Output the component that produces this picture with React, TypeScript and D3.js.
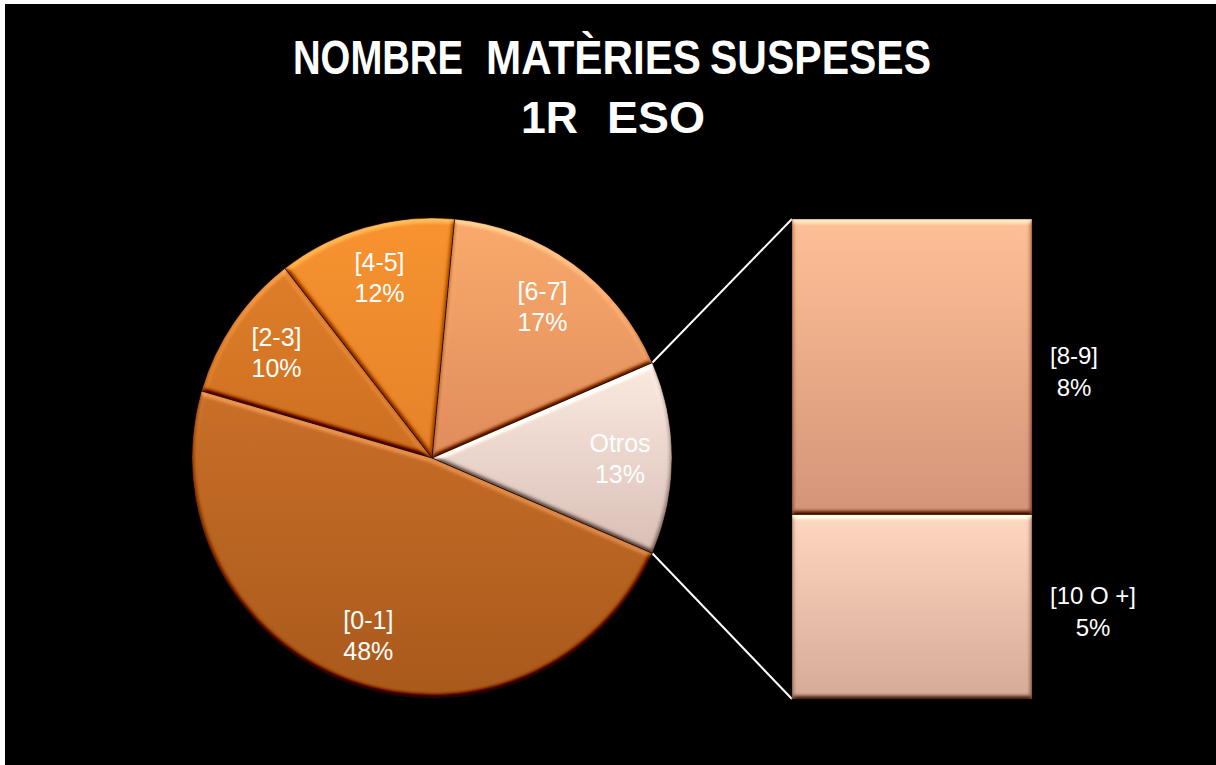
import React from "react";
import * as d3 from "d3";

// ---- Data ----
const categories = ["[0-1]", "[2-3]", "[4-5]", "[6-7]", "Otros"];
const values = [48, 10, 12, 17, 13];
const percentLabels = ["48%", "10%", "12%", "17%", "13%"];
const barCategories = ["[10 O +]", "[8-9]"]; // bottom to top
const barValues = [5, 8];
const barPercentLabels = ["5%", "8%"];
const titleLine1 = ["NOMBRE", "MATÈRIES", "SUSPESES"];
const titleLine2 = ["1R", "ESO"];

// ---- Styles ----
const pieTop = ["#C96F28", "#DE7E29", "#F7932F", "#F9AA6B", "#FBEAE1"];
const pieBottom = ["#A9591C", "#CD6F21", "#E5822A", "#E08C5C", "#D9BFB6"];
const barTop = ["#FFD6C0", "#FFC097"];
const barBottom = ["#D6AB98", "#D39479"];

const W = 1216;
const H = 765;
const cx = 432;
const cy = 458;
const R = 240;
const labelR = 188;
const barX0 = 792;
const barX1 = 1032;
const barTopY = 219;
const barBottomY = 699;
const font = '"Liberation Sans", Arial, sans-serif';

function measure(text: string, size: number): number {
  if (typeof document === "undefined") return text.length * size * 0.55;
  const c = document.createElement("canvas").getContext("2d");
  if (!c) return text.length * size * 0.55;
  c.font = `${size}px "Liberation Sans", Arial, sans-serif`;
  return c.measureText(text).width;
}

export default function App() {
  const total = d3.sum(values);
  const otros = values[values.length - 1];
  const start = Math.PI / 2 + Math.PI * (otros / total);
  const pie = d3
    .pie<number>()
    .sort(null)
    .value((d) => d)
    .startAngle(start)
    .endAngle(start + 2 * Math.PI);
  const arcs = pie(values);
  const arc = d3.arc<d3.PieArcDatum<number>>().innerRadius(0).outerRadius(R);
  const labelArc = d3
    .arc<d3.PieArcDatum<number>>()
    .innerRadius(labelR)
    .outerRadius(labelR);

  const otrosArc = arcs[arcs.length - 1];
  const pt = (a: number) => [cx + R * Math.sin(a), cy - R * Math.cos(a)];
  const [tx, ty] = pt(otrosArc.startAngle);
  const [bx, by] = pt(otrosArc.endAngle);

  const barTotal = d3.sum(barValues);
  const y = d3.scaleLinear().domain([0, barTotal]).range([barBottomY, barTopY]);
  const stacked: { y0: number; y1: number }[] = [];
  let acc = 0;
  barValues.forEach((v) => {
    stacked.push({ y0: acc, y1: acc + v });
    acc += v;
  });

  const barLabelSize = 24;
  const pieLabelSize = 25;

  const t1x = [293, 486, 710];
  const t1w = [170, 215, 221];
  const t2x = [521, 607];
  const t2w = [57, 98];

  return (
    <div style={{ position: "fixed", left: 0, top: 0, width: W, height: H }}>
      <svg width={W} height={H} style={{ display: "block" }}>
        <defs>
          <filter
            id="bevel"
            x="-5%"
            y="-5%"
            width="110%"
            height="110%"
            colorInterpolationFilters="sRGB"
          >
            <feGaussianBlur in="SourceAlpha" stdDeviation="2.5" result="b" />
            <feDiffuseLighting
              in="b"
              surfaceScale="3"
              diffuseConstant="1"
              lightingColor="#ffffff"
              result="d"
            >
              <feDistantLight azimuth="265" elevation="55" />
            </feDiffuseLighting>
            <feComponentTransfer in="d" result="d2">
              <feFuncR type="linear" slope="1" intercept="0" />
            </feComponentTransfer>
            <feComposite
              in="SourceGraphic"
              in2="d"
              operator="arithmetic"
              k1="0"
              k2="1"
              k3="0.9"
              k4="-0.737"
              result="lit"
            />
            <feComposite in="lit" in2="SourceAlpha" operator="in" />
          </filter>
          {arcs.map((_, i) => (
            <linearGradient key={i} id={`pg${i}`} x1="0" y1="0" x2="0" y2="1">
              <stop offset="0" stopColor={pieTop[i]} />
              <stop offset="1" stopColor={pieBottom[i]} />
            </linearGradient>
          ))}
          {barValues.map((_, i) => (
            <linearGradient key={i} id={`bg${i}`} x1="0" y1="0" x2="0" y2="1">
              <stop offset="0" stopColor={barTop[i]} />
              <stop offset="1" stopColor={barBottom[i]} />
            </linearGradient>
          ))}
        </defs>
        <rect x={0} y={0} width={W} height={H} fill="#ffffff" />
        <rect x={5} y={4} width={W - 5} height={H - 4} fill="#000000" />

        {/* Title */}
        {titleLine1.map((w, i) => (
          <text
            key={w}
            x={t1x[i]}
            y={74}
            fontFamily={font}
            fontWeight="bold"
            fontSize={48}
            fill="#ffffff"
            textLength={t1w[i]}
            lengthAdjust="spacingAndGlyphs"
          >
            {w}
          </text>
        ))}
        {titleLine2.map((w, i) => (
          <text
            key={w}
            x={t2x[i]}
            y={133}
            fontFamily={font}
            fontWeight="bold"
            fontSize={44}
            fill="#ffffff"
            textLength={t2w[i]}
            lengthAdjust="spacingAndGlyphs"
          >
            {w}
          </text>
        ))}

        {/* Connector lines */}
        <line x1={tx} y1={ty} x2={barX0} y2={y(barTotal)} stroke="#ffffff" strokeWidth={2} />
        <line x1={bx} y1={by} x2={barX0} y2={y(0)} stroke="#ffffff" strokeWidth={2} />

        {/* Pie */}
        {arcs.map((a, i) => (
          <path
            key={categories[i]}
            d={arc(a) || ""}
            transform={`translate(${cx},${cy})`}
            fill={`url(#pg${i})`}
            filter="url(#bevel)"
          />
        ))}
        {arcs.map((a, i) => (
          <path
            key={"s" + categories[i]}
            d={arc(a) || ""}
            transform={`translate(${cx},${cy})`}
            fill="none"
            stroke="#2a1a10"
            strokeWidth={0.8}
            strokeOpacity={0.6}
          />
        ))}
        {arcs.map((a, i) => {
          const [lx, ly] = labelArc.centroid(a);
          return (
            <text
              key={"l" + categories[i]}
              x={cx + lx}
              y={cy + ly}
              fontFamily={font}
              fontSize={pieLabelSize}
              fill="#ffffff"
              textAnchor="middle"
            >
              <tspan x={cx + lx} dy={-6}>
                {categories[i]}
              </tspan>
              <tspan x={cx + lx} dy={31}>
                {percentLabels[i]}
              </tspan>
            </text>
          );
        })}

        {/* Bar of pie */}
        {stacked.map((s, i) => (
          <rect
            key={barCategories[i]}
            x={barX0}
            y={y(s.y1)}
            width={barX1 - barX0}
            height={y(s.y0) - y(s.y1)}
            fill={`url(#bg${i})`}
            filter="url(#bevel)"
          />
        ))}
        {stacked.map((s, i) => (
          <rect
            key={"s" + barCategories[i]}
            x={barX0}
            y={y(s.y1)}
            width={barX1 - barX0}
            height={y(s.y0) - y(s.y1)}
            fill="none"
            stroke="#2a1a10"
            strokeWidth={0.8}
            strokeOpacity={0.5}
          />
        ))}
        {stacked.map((s, i) => {
          const mid = (y(s.y0) + y(s.y1)) / 2;
          const wMax = Math.max(
            measure(barCategories[i], barLabelSize),
            measure(barPercentLabels[i], barLabelSize)
          );
          const lx = barX1 + 18 + wMax / 2;
          return (
            <text
              key={"bl" + barCategories[i]}
              fontFamily={font}
              fontSize={barLabelSize}
              fill="#ffffff"
              textAnchor="middle"
            >
              <tspan x={lx} y={mid - 3}>
                {barCategories[i]}
              </tspan>
              <tspan x={lx} y={mid + 29}>
                {barPercentLabels[i]}
              </tspan>
            </text>
          );
        })}
      </svg>
    </div>
  );
}
